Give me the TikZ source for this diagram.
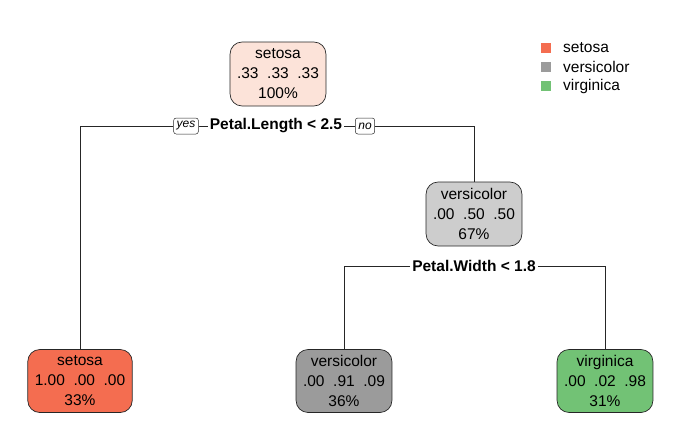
\documentclass[tikz,border=0pt]{standalone}
\usepackage{fontspec}
\setmainfont{Liberation Sans}
\usetikzlibrary{positioning}

\definecolor{setosaC}{HTML}{F46D50}
\definecolor{versiC}{HTML}{9B9B9B}
\definecolor{virgiC}{HTML}{72C275}
\definecolor{rootC}{HTML}{FCE3D9}
\definecolor{midC}{HTML}{CDCDCD}

\begin{document}
\begin{tikzpicture}[x=1pt, y=-1pt,
  treenode/.style={draw=black!85, line width=0.7pt, rounded corners=12pt, align=center,
    inner xsep=7pt, inner ysep=0pt, minimum height=64pt,
    font=\fontsize{15.5}{20}\selectfont},
  splitlabel/.style={font=\fontsize{15.5}{18}\selectfont\bfseries, inner sep=2pt},
  yesno/.style={draw=black!85, line width=0.5pt, rounded corners=2.5pt, fill=white,
    font=\fontsize{12}{13}\selectfont\itshape, inner xsep=3pt, inner ysep=1pt,
    minimum height=16pt},
  edge/.style={draw=black!85, line width=0.7pt},
  legbox/.style={minimum size=10pt, inner sep=0pt},
  legtext/.style={anchor=west, font=\fontsize{15.5}{18}\selectfont, inner sep=0pt}]
  \useasboundingbox (0,0) rectangle (693,437);

  % Root
  \node[treenode, fill=rootC] (root) at (278,74) {setosa\\.33~~.33~~.33\\100\%};
  \node[splitlabel] (split1) at (276,126) {Petal.Length < 2.5};
  \node[yesno] (yes) at (186,126) {yes};
  \node[yesno] (no) at (365,126) {no};

  % Inner node
  \node[treenode, fill=midC] (vers) at (474,214) {versicolor\\.00~~.50~~.50\\67\%};
  \node[splitlabel] (split2) at (474,266) {Petal.Width < 1.8};

  % Leaves
  \node[treenode, fill=setosaC, minimum height=63pt] (leafA) at (80,381) {setosa\\1.00~~.00~~.00\\33\%};
  \node[treenode, fill=versiC, minimum height=63pt] (leafB) at (344,381) {versicolor\\.00~~.91~~.09\\36\%};
  \node[treenode, fill=virgiC, minimum height=63pt] (leafC) at (605,381) {virginica\\.00~~.02~~.98\\31\%};

  % Connectors
  \draw[edge] (yes.west) -| (leafA.north);
  \draw[edge] (yes.east) -- (split1.west);
  \draw[edge] (split1.east) -- (no.west);
  \draw[edge] (no.east) -| (vers.north);
  \draw[edge] (split2.west) -| (leafB.north);
  \draw[edge] (split2.east) -| (leafC.north);

  % Legend
  \node[legbox, fill=setosaC] (lg1) at (546,48) {};
  \node[legbox, fill=versiC] (lg2) at (546,67) {};
  \node[legbox, fill=virgiC] (lg3) at (546,86) {};
  \node[legtext] (lt1) at (563,48) {setosa};
  \node[legtext] (lt2) at (563,67) {versicolor};
  \node[legtext] (lt3) at (563,86) {virginica};
\end{tikzpicture}
\end{document}
